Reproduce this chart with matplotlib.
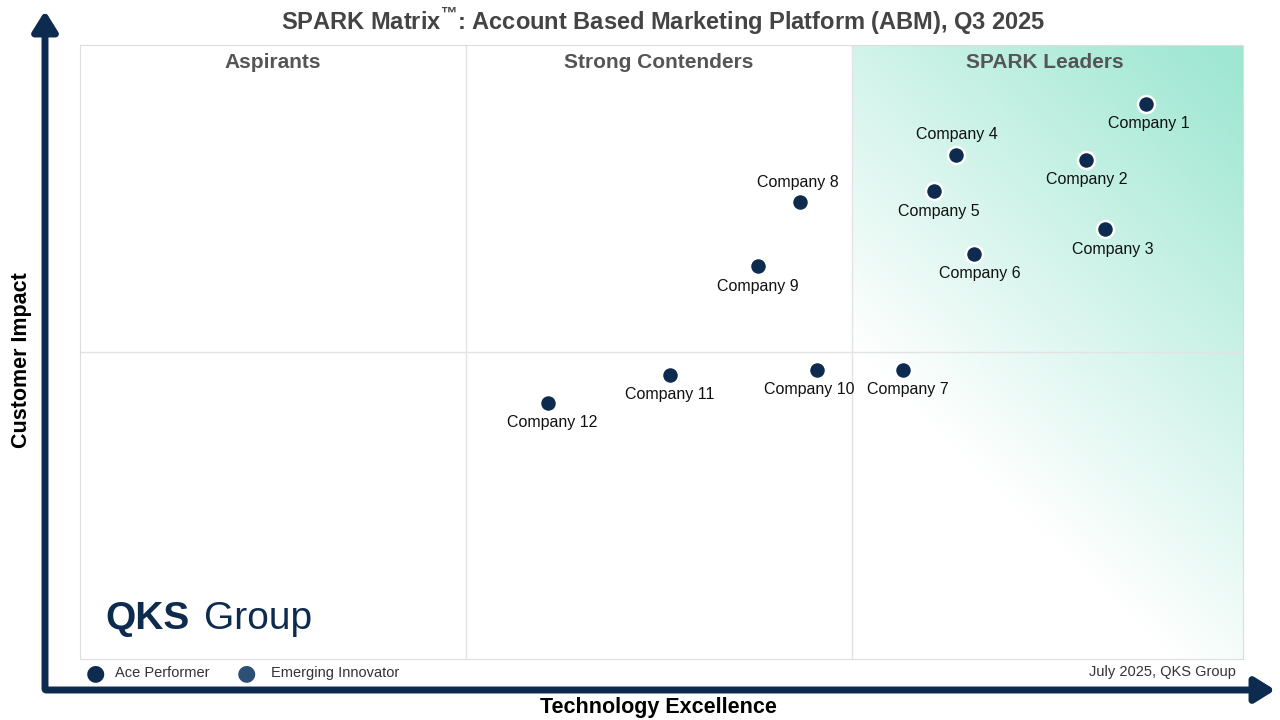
import numpy as np
import matplotlib.pyplot as plt
from matplotlib.patches import FancyArrowPatch

plt.rcParams['font.family'] = ['Liberation Sans', 'DejaVu Sans']

companies = ['Company 1', 'Company 2', 'Company 3', 'Company 4', 'Company 5', 'Company 6',
             'Company 7', 'Company 8', 'Company 9', 'Company 10', 'Company 11', 'Company 12']
tech = [91.7, 86.5, 88.1, 75.3, 73.4, 76.9, 70.8, 61.9, 58.3, 63.4, 50.7, 40.2]
impact = [90.4, 81.3, 70.0, 82.1, 76.2, 66.0, 47.1, 74.4, 64.0, 47.1, 46.3, 41.7]
label_above = [False, False, False, True, False, False, False, True, False, False, False, False]
label_dx = [2, 1, 8, 1, 5, 5, 4, -2, 0, -8, 0, 5]
quadrants = ['Aspirants', 'Strong Contenders', 'SPARK Leaders']

navy = '#0d2a4f'
W, H = 1280, 720
fig = plt.figure(figsize=(12.8, 7.2), dpi=100)
ax = fig.add_axes([80 / W, 61 / H, 1163 / W, 614 / H])
ax.set_xlim(0, 100)
ax.set_ylim(0, 100)
ax.set_xticks([])
ax.set_yticks([])
for s in ax.spines.values():
    s.set_color('#dddddd')

# gradient in leaders quadrant
nx, ny = 200, 200
gx, gy = np.meshgrid(np.linspace(0, 1, nx), np.linspace(0, 1, ny))
alpha = np.clip((gx * 0.55 + gy * 0.9) - 0.45, 0, 0.95)
img = np.zeros((ny, nx, 4))
img[..., 0] = 0x9a / 255
img[..., 1] = 0xe6 / 255
img[..., 2] = 0xd0 / 255
img[..., 3] = alpha
ax.imshow(img, extent=[66.4, 100, 0, 100], origin='lower', aspect='auto', zorder=0)

for xv in [33.2, 66.4]:
    ax.axvline(xv, color='#e3e3e3', lw=1, zorder=1)
ax.axhline(50, color='#e3e3e3', lw=1, zorder=1)

for i, q in enumerate(quadrants):
    ax.text(16.6 + 33.2 * i, 97.1, q, ha='center', va='center', fontsize=15,
            fontweight='bold', color='#555555')

ax.scatter(tech, impact, s=150, color=navy, edgecolor='white', linewidth=1.8, zorder=3)
for name, xv, yv, up, dx in zip(companies, tech, impact, label_above, label_dx):
    ax.annotate(name, (xv, yv), xytext=(dx * 0.72, 9 if up else -9), textcoords='offset points',
                ha='center', va='bottom' if up else 'top', fontsize=11.5, color='#111111', zorder=4)

ax.text(2.2, 6.5, 'QKS', fontsize=28, fontweight='bold', color=navy, va='center')
ax.text(10.7, 6.5, 'Group', fontsize=28, color=navy, va='center')

fig.text(663 / W, 1 - 22 / H, 'SPARK Matrix$^{\\mathregular{™}}$: Account Based Marketing Platform (ABM), Q3 2025',
         ha='center', va='center', fontsize=17, fontweight='bold', color='#444444')

# axis arrows
fig.patches.append(FancyArrowPatch((45 / W, 1 - 692 / H), (45 / W, 1 - 8 / H), transform=fig.transFigure,
                                   arrowstyle='-|>,head_length=8,head_width=5', lw=5, color=navy, mutation_scale=1.5))
fig.patches.append(FancyArrowPatch((43 / W, 1 - 690 / H), (1278 / W, 1 - 690 / H), transform=fig.transFigure,
                                   arrowstyle='-|>,head_length=8,head_width=5', lw=5, color=navy, mutation_scale=1.5))
fig.text(658 / W, 1 - 708 / H, 'Technology Excellence', ha='center', va='center', fontsize=15.5, fontweight='bold')
fig.text(22 / W, 0.5, 'Customer Impact', ha='center', va='center', rotation=90, fontsize=15.5, fontweight='bold')

# legend
fig.text(95 / W, 1 - 673 / H, '●', ha='center', va='center', fontsize=16, color=navy, family='DejaVu Sans')
fig.text(115 / W, 1 - 673 / H, 'Ace Performer', va='center', fontsize=10.5, color='#333333')
fig.text(246 / W, 1 - 673 / H, '●', ha='center', va='center', fontsize=16, color='#2d4f75', family='DejaVu Sans')
fig.text(271 / W, 1 - 673 / H, 'Emerging Innovator', va='center', fontsize=10.5, color='#333333')
fig.text(1236 / W, 1 - 672 / H, 'July 2025, QKS Group', ha='right', va='center', fontsize=10.5, color='#333333')

fig.savefig('out.png', dpi=100)
